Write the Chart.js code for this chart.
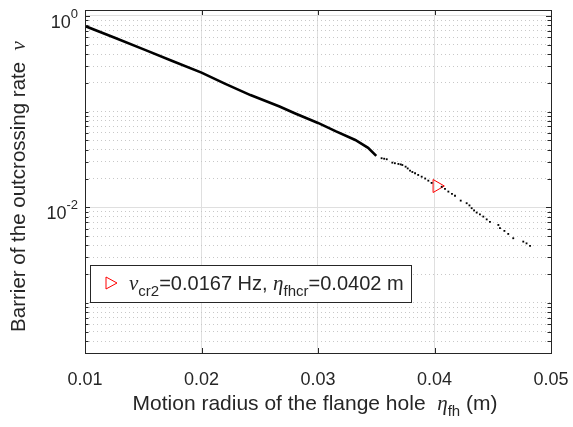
<!DOCTYPE html>
<html>
<head>
<meta charset="utf-8">
<script src="https://cdn.jsdelivr.net/npm/chart.js@4/dist/chart.umd.min.js"></script>
<style>
  html, body { margin: 0; padding: 0; background: #fff; }
</style>
</head>
<body>
<canvas id="chart" width="573" height="427"></canvas>
<script>
//Curve: continuous part
const etaMain = [0.0100, 0.0125, 0.0152, 0.0175, 0.0200, 0.0220, 0.0242, 0.0267, 0.0280, 0.0300, 0.0315, 0.0332, 0.0343, 0.0350];
const nuMain = [0.786, 0.595, 0.440, 0.339, 0.256, 0.196, 0.149, 0.113, 0.0962, 0.0762, 0.0625, 0.0506, 0.0418, 0.0345];

//Broken tail of the curve (single points)
const etaTail = [0.03546, 0.03568, 0.03590, 0.03638, 0.03660, 0.03690, 0.03710, 0.03724, 0.03752, 0.03770,
  0.03790, 0.03810, 0.03833, 0.03860, 0.03890, 0.03920, 0.03947, 0.03975, 0.04062, 0.04090, 0.04119, 0.04150,
  0.04176, 0.04225, 0.04276, 0.04300, 0.04319, 0.04340, 0.04362, 0.04390, 0.04419, 0.04448, 0.04476, 0.04548,
  0.04562, 0.04600, 0.04633, 0.04676, 0.04762, 0.04790, 0.04820];
const nuTail = [0.0326, 0.0322, 0.0318, 0.0293, 0.0289, 0.0284, 0.0281, 0.0277, 0.0266, 0.0255,
  0.0242, 0.0234, 0.0227, 0.0218, 0.0209, 0.0200, 0.0190, 0.0180, 0.0164, 0.0156, 0.0146, 0.0138,
  0.0132, 0.01175, 0.01104, 0.01047, 0.00979, 0.00929, 0.00881, 0.00843, 0.00800, 0.00748, 0.00704, 0.00654,
  0.00605, 0.00567, 0.00527, 0.00475, 0.00438, 0.00420, 0.00395];

//Critical point
const etaCr = [0.0402];
const nuCr = [0.0167];

//Axis ticks
const xTicks = [0.01, 0.02, 0.03, 0.04, 0.05];
const yMajor = [1, 0.01];
const yMinor = [];
[1e-4, 1e-3, 1e-2, 1e-1, 1].forEach((d) => {
  for (let k = 1; k <= 9; k++) {
    const v = k * d;
    if (v >= 3.0e-4 && v <= 1.155 && v !== 1 && v !== 0.01) yMinor.push(v);
  }
});

const textColor = "#262626";
const sans = "'Liberation Sans'";
const greek = "'Liberation Serif'";

function toPoints(xs, ys) {
  return xs.map((x, i) => ({ x: x, y: ys[i] }));
}

//Draw a string made of parts (for sub/superscripts)
function drawParts(ctx, parts, x, y, align) {
  let total = 0;
  parts.forEach((p) => {
    ctx.font = p.font;
    p.w = ctx.measureText(p.text).width;
    total += p.w;
  });
  let cx = align === "right" ? x - total : align === "center" ? x - total / 2 : x;
  parts.forEach((p) => {
    ctx.font = p.font;
    ctx.fillText(p.text, cx, y + (p.dy || 0));
    cx += p.w;
  });
}

//Frame, inward ticks, labels and legend like the original figure
const matlabAxes = {
  id: "matlabAxes",
  afterDraw(chart) {
    const ctx = chart.ctx;
    const a = chart.chartArea;
    const xs = chart.scales.x;
    const ys = chart.scales.y;
    ctx.save();

    //Box
    ctx.strokeStyle = textColor;
    ctx.lineWidth = 1;
    ctx.strokeRect(Math.round(a.left) + 0.5, Math.round(a.top) + 0.5,
      Math.round(a.right - a.left), Math.round(a.bottom - a.top));

    //Ticks pointing inward
    ctx.beginPath();
    xTicks.forEach((v) => {
      const px = Math.round(xs.getPixelForValue(v)) + 0.5;
      ctx.moveTo(px, a.bottom); ctx.lineTo(px, a.bottom - 5);
      ctx.moveTo(px, a.top); ctx.lineTo(px, a.top + 5);
    });
    yMajor.concat(yMinor).forEach((v) => {
      const len = yMajor.includes(v) ? 5 : 3.5;
      const py = Math.round(ys.getPixelForValue(v)) + 0.5;
      ctx.moveTo(a.left, py); ctx.lineTo(a.left + len, py);
      ctx.moveTo(a.right, py); ctx.lineTo(a.right - len, py);
    });
    ctx.stroke();

    //Y tick labels 10^0 and 10^-2
    ctx.fillStyle = textColor;
    ctx.textBaseline = "alphabetic";
    const yLabels = [{ v: 1, e: "0" }, { v: 0.01, e: "-2" }];
    yLabels.forEach((l) => {
      const py = ys.getPixelForValue(l.v);
      drawParts(ctx, [
        { text: "10", font: "18px " + sans, dy: 12 },
        { text: l.e, font: "13px " + sans, dy: 2 },
      ], a.left - 7, py, "right");
    });

    //X axis title
    drawParts(ctx, [
      { text: "Motion radius of the flange hole  ", font: "21px " + sans },
      { text: "\u03B7", font: "italic 21px " + greek },
      { text: "fh", font: "15px " + sans, dy: 6 },
      { text: " (m)", font: "21px " + sans },
    ], (a.left + a.right) / 2 - 3, 410, "center");

    //Y axis title (rotated)
    ctx.save();
    ctx.translate(25, (a.top + a.bottom) / 2 + 5);
    ctx.rotate(-Math.PI / 2);
    drawParts(ctx, [
      { text: "Barrier of the outcrossing rate  ", font: "20.5px " + sans },
      { text: "\u03BD", font: "italic 21px " + greek },
    ], 0, 0, "center");
    ctx.restore();

    //Legend box
    const lx = 90.5, ly = 265.5, lw = 321, lh = 37;
    ctx.fillStyle = "#fff";
    ctx.fillRect(lx, ly, lw, lh);
    ctx.strokeStyle = textColor;
    ctx.strokeRect(lx, ly, lw, lh);
    //Legend marker
    ctx.strokeStyle = "#ff0000";
    ctx.beginPath();
    ctx.moveTo(106, 277);
    ctx.lineTo(117, 283);
    ctx.lineTo(106, 289);
    ctx.closePath();
    ctx.stroke();
    ctx.fillStyle = textColor;
    drawParts(ctx, [
      { text: "\u03BD", font: "italic 21px " + greek },
      { text: "cr2", font: "15px " + sans, dy: 6 },
      { text: "=0.0167 Hz, ", font: "20px " + sans },
      { text: "\u03B7", font: "italic 21px " + greek },
      { text: "fhcr", font: "15px " + sans, dy: 6 },
      { text: "=0.0402 m", font: "20px " + sans },
    ], 129, 290, "left");

    ctx.restore();
  },
};

const config = {
  type: "scatter",
  data: {
    datasets: [
      {
        label: "curve",
        data: toPoints(etaMain, nuMain),
        showLine: true,
        borderColor: "#000",
        borderWidth: 2.6,
        pointRadius: 0,
        tension: 0,
      },
      {
        label: "tail",
        data: toPoints(etaTail, nuTail),
        showLine: false,
        backgroundColor: "#000",
        borderColor: "#000",
        pointStyle: "rect",
        pointRadius: 1.3,
        borderWidth: 0,
      },
      {
        label: "critical",
        data: toPoints(etaCr, nuCr),
        showLine: false,
        pointStyle: "triangle",
        rotation: 90,
        pointRadius: 7.5,
        borderColor: "#ff0000",
        backgroundColor: "rgba(0,0,0,0)",
        borderWidth: 1,
      },
    ],
  },
  options: {
    responsive: false,
    animation: false,
    layout: { padding: { top: 10, right: 22, left: 0, bottom: 0 } },
    plugins: { legend: { display: false }, tooltip: { enabled: false } },
    scales: {
      x: {
        type: "linear",
        min: 0.01,
        max: 0.05,
        afterBuildTicks: (s) => { s.ticks = xTicks.map((v) => ({ value: v })); },
        afterFit: (s) => { s.height = 74; s.paddingLeft = 0; s.paddingRight = 0; },
        grid: { color: "#dfdfdf", drawTicks: false },
        border: { display: false },
        ticks: {
          color: textColor,
          font: { family: sans, size: 18 },
          padding: 16,
          maxRotation: 0,
          callback: (v) => v.toFixed(2),
        },
      },
      yMinor: {
        type: "logarithmic",
        position: "left",
        min: 3.0e-4,
        max: 1.155,
        afterBuildTicks: (s) => { s.ticks = yMinor.map((v) => ({ value: v })); },
        afterFit: (s) => { s.width = 0; },
        grid: { color: "#c8c8c8", drawTicks: false },
        border: { display: false, dash: [1, 3] },
        ticks: { display: false },
      },
      y: {
        type: "logarithmic",
        position: "left",
        min: 3.0e-4,
        max: 1.155,
        afterBuildTicks: (s) => { s.ticks = yMajor.map((v) => ({ value: v })); },
        afterFit: (s) => { s.width = 85; },
        grid: { color: "#dfdfdf", drawTicks: false },
        border: { display: false },
        ticks: { display: false },
      },
    },
  },
  plugins: [matlabAxes],
};

new Chart(document.getElementById("chart"), config);
</script>
</body>
</html>
